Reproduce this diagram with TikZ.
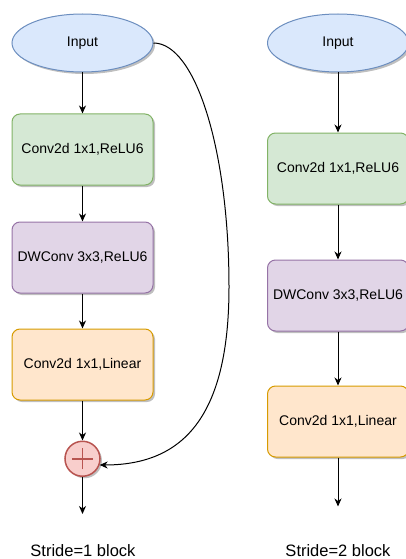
\documentclass[tikz,border=0pt]{standalone}
\usepackage{fontspec}
\setmainfont{Liberation Sans}
\usetikzlibrary{arrows.meta,positioning,shapes.geometric,shadows}
\definecolor{inpfill}{HTML}{DAE8FC}
\definecolor{inpline}{HTML}{6C8EBF}
\definecolor{pwfill}{HTML}{D5E8D4}
\definecolor{pwline}{HTML}{82B366}
\definecolor{dwfill}{HTML}{E1D5E7}
\definecolor{dwline}{HTML}{9673A6}
\definecolor{linfill}{HTML}{FFE6CC}
\definecolor{linline}{HTML}{D79B00}
\definecolor{addfill}{HTML}{F8CECC}
\definecolor{addline}{HTML}{B85450}
\tikzset{
  vshadow/.style={drop shadow={shadow xshift=2pt,shadow yshift=-2pt,opacity=0.25,fill=black}},
  vin/.style={ellipse,draw=inpline,fill=inpfill,minimum width=141pt,minimum height=58pt,inner sep=0pt,line width=1pt,vshadow},
  vbox/.style={rounded corners=8pt,minimum width=141pt,minimum height=71pt,inner sep=0pt,line width=1pt,vshadow},
  vpw/.style={vbox,draw=pwline,fill=pwfill},
  vdw/.style={vbox,draw=dwline,fill=dwfill},
  vlin/.style={vbox,draw=linline,fill=linfill},
  vadd/.style={circle,draw=addline,fill=addfill,minimum size=35pt,inner sep=0pt,line width=1.5pt,vshadow},
  vplus/.style={draw=addline,line width=1.5pt},
  varr/.style={-{Stealth[length=8pt,width=7pt,inset=2.5pt]},line width=1pt,draw=black},
  vcap/.style={font=\fontsize{16.5pt}{19pt}\selectfont,anchor=base,inner sep=0pt}
}

\begin{document}
\begin{tikzpicture}[x=1pt,y=-1pt,font=\fontsize{14pt}{16pt}\selectfont]
  \useasboundingbox (0,0) rectangle (406,559);
  \clip (0,0) rectangle (406,559);
  % stride 1
  \node[vin] (in1) at (82.5,43) {Input};
  \node[vpw,below=41pt of in1] (pw1) {Conv2d 1x1,ReLU6};
  \node[vdw,below=36pt of pw1] (dw1) {DWConv 3x3,ReLU6};
  \node[vlin,below=35pt of dw1] (lin1) {Conv2d 1x1,Linear};
  \node[vadd,below=40pt of lin1] (add1) {};
  \draw[vplus] ([xshift=-10.5pt]add1.center) -- ([xshift=10.5pt]add1.center);
  \draw[vplus] ([yshift=-10.5pt]add1.center) -- ([yshift=10.5pt]add1.center);
  \coordinate[below=37pt of add1] (out1);
  \coordinate (skip1) at (229,287);
  \draw[varr] (in1) -- (pw1);
  \draw[varr] (pw1) -- (dw1);
  \draw[varr] (dw1) -- (lin1);
  \draw[varr] (lin1) -- (add1);
  \draw[varr] (add1) -- (out1);
  \draw[varr] (in1.east) .. controls +(42,0) and +(0,-137) .. (skip1)
     .. controls +(0,133) and +(81,0) .. (add1.-20);
  \node[vcap] (cap1) at (83,556) {Stride=1 block};
  % stride 2
  \node[vin] (in2) at (338,43) {Input};
  \node[vpw,below=60pt of in2] (pw2) {Conv2d 1x1,ReLU6};
  \node[vdw,below=55pt of pw2] (dw2) {DWConv 3x3,ReLU6};
  \node[vlin,below=54pt of dw2] (lin2) {Conv2d 1x1,Linear};
  \coordinate[below=49pt of lin2] (out2);
  \draw[varr] (in2) -- (pw2);
  \draw[varr] (pw2) -- (dw2);
  \draw[varr] (dw2) -- (lin2);
  \draw[varr] (lin2) -- (out2);
  \node[vcap] (cap2) at (338,556) {Stride=2 block};
\end{tikzpicture}
\end{document}
